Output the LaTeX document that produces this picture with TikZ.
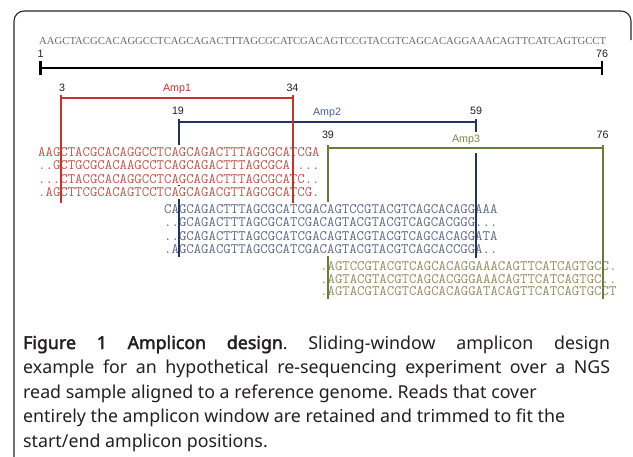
\documentclass[tikz,border=0pt]{standalone}
\usepackage{fontspec}
\newfontfamily\labfont{Liberation Sans}
\newfontfamily\topseqfont{Liberation Serif}
\newfontfamily\capfont{Noto Sans}
\newfontfamily\capboldfont{Noto Sans}[FakeBold=2.4]
\definecolor{framecol}{RGB}{40,40,40}
\definecolor{seqgray}{RGB}{105,105,105}
\definecolor{numcol}{RGB}{30,30,30}
\definecolor{redline}{RGB}{200,50,40}
\definecolor{redtext}{RGB}{195,85,72}
\definecolor{blueline}{RGB}{35,52,100}
\definecolor{bluetext}{RGB}{95,105,140}
\definecolor{bluelab}{RGB}{70,95,150}
\definecolor{greenline}{RGB}{105,125,55}
\definecolor{greentext}{RGB}{150,140,95}
\definecolor{greenlab}{RGB}{120,135,70}
\definecolor{captext}{RGB}{35,31,32}
\frenchspacing
\begin{document}
\begin{tikzpicture}[x=1pt,y=-1pt,
  lab/.style={font=\labfont\fontsize{10.7}{12}\selectfont, inner sep=0pt, text=numcol},
  readrow/.style={font=\ttfamily\fontsize{14.38}{14}\selectfont, inner xsep=0pt, inner ysep=0pt, fill=white, anchor=base west},
  redrow/.style={readrow, text=redtext, text height=11pt, text depth=2.35pt},
  bluerow/.style={readrow, text=bluetext, text height=11.05pt, text depth=2.4pt},
  greenrow/.style={readrow, text=greentext, text height=10.7pt, text depth=2.05pt},
  redln/.style={draw=redline, line width=2pt},
  blueln/.style={draw=blueline, line width=2pt},
  greenln/.style={draw=greenline, line width=2pt},
  capline/.style={font=\capfont\fontsize{17.8}{20}\selectfont\frenchspacing, text=captext, inner sep=0pt, anchor=base west}
]
\useasboundingbox (0,0) rectangle (633,456);
% frame
\begin{scope}
\clip (0,0) rectangle (633,456);
\draw[framecol, line width=1.1pt, rounded corners=10pt] (14,470) -- (14,11) -- (631,11) -- (631,40);
\end{scope}
% reference sequence
\node[font=\topseqfont\fontsize{10.7}{12}\selectfont, text=seqgray, inner sep=0pt, anchor=base west] (refseq) at (39,44.5)
  {AAGCTACGCACAGGCCTCAGCAGACTTTAGCGCATCGACAGTCCGTACGTCAGCACAGGAAACAGTTCATCAGTGCCT};
\node[lab] (p1) at (40.5,54) {1};
\node[lab] (p76) at (602,54) {76};
\coordinate (barl) at (40.5,68);
\coordinate (barr) at (602,68);
\draw[black, line width=2.4pt] (barl) -- (barr);
\draw[black, line width=2.2pt] ([yshift=-7pt]barl) -- ([yshift=7pt]barl);
\draw[black, line width=2.2pt] ([yshift=-7pt]barr) -- ([yshift=7pt]barr);
% Amp2 (blue)
\coordinate (b2l) at (178.5,121.7);
\coordinate (b2r) at (476,121.7);
\coordinate (b2lt) at (178.5,119.3);
\coordinate (b2rt) at (476,119.3);
\coordinate (b2lb) at (178.5,257);
\coordinate (b2rb) at (476,258);
\draw[blueln] (b2l) -- (b2r);
\draw[blueln] (b2lt) -- (b2lb);
\draw[blueln] (b2rt) -- (b2rb);
\node[lab] (n19) at (178,110.5) {19};
\node[lab] (n59) at (476,111) {59};
\node[lab, text=bluelab] (amp2) at (327,112.7) {Amp2};
% Amp3 (green)
\node[lab, text=greenlab, fill=white, anchor=base, text height=11pt, text depth=10pt, inner xsep=1pt] (amp3) at (466,142.9) {Amp3};
\coordinate (g3l) at (328,147.5);
\coordinate (g3r) at (602.5,147.5);
\coordinate (g3lt) at (328,145);
\coordinate (g3rt) at (602.5,145);
\coordinate (g3lb) at (328,298.5);
\coordinate (g3rb) at (602.5,298.5);
\draw[greenln] (g3l) -- (g3r);
\draw[greenln] (g3lt) -- (g3lb);
\draw[greenln] (g3rt) -- (g3rb);
\node[lab] (n39) at (328,135) {39};
\node[lab] (n76b) at (602.5,135) {76};
% Amp1 (red)
\coordinate (r1l) at (61,97.5);
\coordinate (r1r) at (292.5,97.5);
\coordinate (r1lt) at (61,95);
\coordinate (r1rt) at (292.5,95);
\coordinate (r1lb) at (61,203);
\coordinate (r1rb) at (292.5,203);
\draw[redln] (r1l) -- (r1r);
\draw[redln] (r1lt) -- (r1lb);
\draw[redln] (r1rt) -- (r1rb);
\node[lab] (n3) at (62,87.5) {3};
\node[lab] (n34) at (292.5,88) {34};
\node[lab, text=redline] (amp1) at (177,88.5) {Amp1};
% reads
\node[redrow] (ra) at (38,156.3) {AAGCTACGCACAGGCCTCAGCAGACTTTAGCGCATCGA};
\node[redrow] (rb) at (38,169.7) {..GCTGCGCACAAGCCTCAGCAGACTTTAGCGCA....};
\node[redrow] (rc) at (38,183.1) {...CTACGCACAGGCCTCAGCAGACTTTAGCGCATC..};
\node[redrow] (rd) at (38,196.5) {.AGCTTCGCACAGTCCTCAGCAGACGTTAGCGCATCG.};
\node[bluerow] (ba) at (164,213.3) {CAGCAGACTTTAGCGCATCGACAGTCCGTACGTCAGCACAGGAAA};
\node[bluerow] (bb) at (164,226.8) {..GCAGACTTTAGCGCATCGACAGTACGTACGTCAGCACGGG...};
\node[bluerow] (bc) at (164,240.3) {..GCAGACTTTAGCGCATCGACAGTACGTACGTCAGCACAGGATA};
\node[bluerow] (bd) at (164,253.8) {.AGCAGACGTTAGCGCATCGACAGTACGTACGTCAGCACCGGA..};
\node[greenrow] (ga) at (320,270.3) {.AGTCCGTACGTCAGCACAGGAAACAGTTCATCAGTGCC.};
\node[greenrow] (gb) at (320,283.05) {.AGTACGTACGTCAGCACGGGAAACAGTTCATCAGTGC..};
\node[greenrow] (gc) at (320,295.8) {.AGTACGTACGTCAGCACAGGATACAGTTCATCAGTGCCT};
% own-colour verticals over own reads
\coordinate (r1lm) at (61,145);
\coordinate (r1rm) at (292.5,145);
\draw[redln] (r1lm) -- (r1lb);
\draw[redln] (r1rm) -- (r1rb);
\coordinate (b2lm) at (178.5,202);
\coordinate (b2rm) at (476,202);
\draw[blueln] (b2lm) -- (b2lb);
\draw[blueln] (b2rm) -- (b2rb);
\coordinate (g3lm) at (328,259);
\coordinate (g3rm) at (602.5,259);
\draw[greenln] (g3lm) -- (g3lb);
\draw[greenln] (g3rm) -- (g3rb);
% caption
\node[capline] (c1) at (23,349) {\makebox[587pt][s]{{\capboldfont Figure 1 Amplicon design}. Sliding-window amplicon design}};
\node[capline] (c2) at (23,373.5) {\makebox[587pt][s]{example for an hypothetical re-sequencing experiment over a NGS}};
\node[capline] (c3) at (23,398) {read sample aligned to a reference genome. Reads that cover};
\node[capline] (c4) at (23,422.5) {entirely the amplicon window are retained and trimmed to fit the};
\node[capline] (c5) at (23,447) {start/end amplicon positions.};
\end{tikzpicture}
\end{document}
